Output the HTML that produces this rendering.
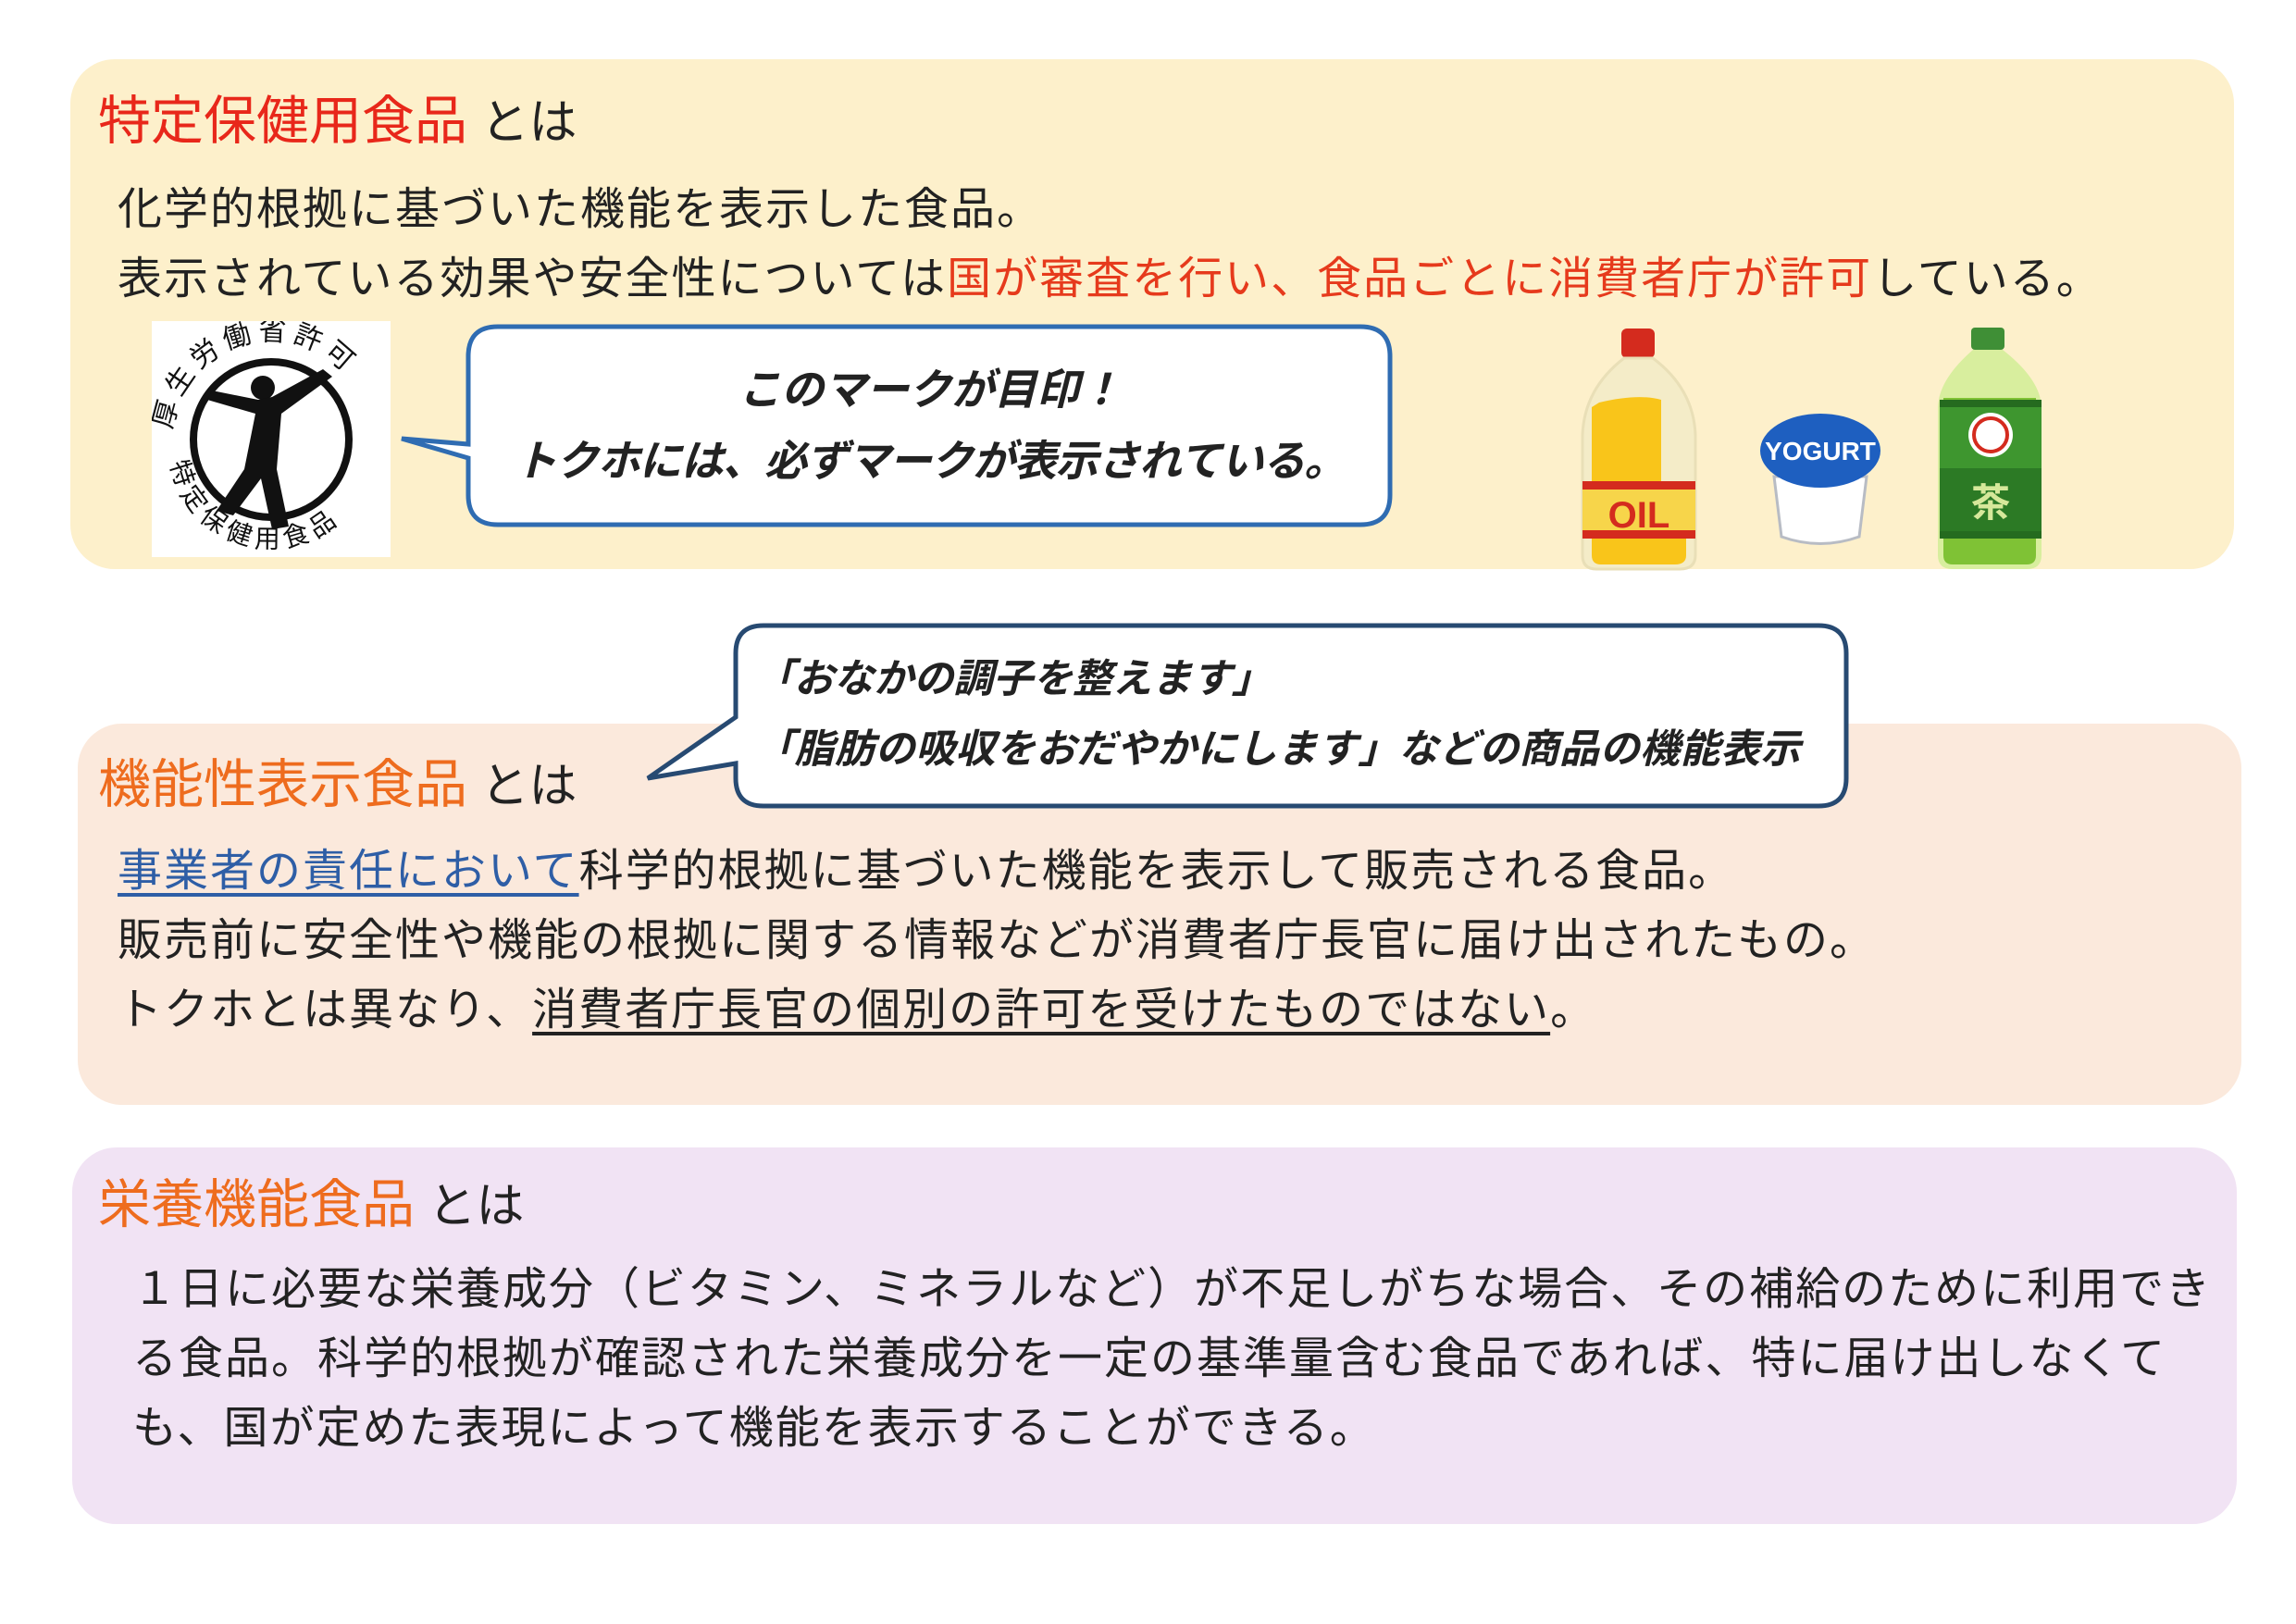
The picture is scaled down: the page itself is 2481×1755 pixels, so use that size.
<!DOCTYPE html>
<html><head><meta charset="utf-8">
<style>
html,body{margin:0;padding:0;background:#fff;}
body{width:2481px;height:1755px;position:relative;overflow:hidden;font-family:"Liberation Sans","Noto Sans CJK JP",sans-serif;color:#222;}
.box{position:absolute;border-radius:48px;}
.t{position:absolute;white-space:nowrap;line-height:1;}
.title{font-size:57px;}
.body{font-size:48px;}
.red{color:#e8271a;}
.org{color:#ee6c1e;}
.rd{color:#e63a1c;}
.b{font-weight:bold;}
</style></head><body>

<div class="box" style="left:76px;top:64px;width:2338px;height:551px;background:#fdf0cb;"></div>
<div class="box" style="left:84px;top:782px;width:2338px;height:412px;background:#fbe9dc;"></div>
<div class="box" style="left:78px;top:1240px;width:2339px;height:407px;background:#f1e3f4;"></div>

<!-- box1 -->
<div class="t title" style="left:106px;top:103px;"><span class="red">特定保健用食品</span><span style="font-size:52px;"> とは</span></div>
<div class="t body" style="left:127px;top:203px;letter-spacing:2px;">化学的根拠に基づいた機能を表示した食品。</div>
<div class="t body" style="left:127px;top:278px;letter-spacing:2px;">表示されている効果や安全性については<span class="rd">国が審査を行い、食品ごとに消費者庁が許可</span>している。</div>

<!-- logo -->
<svg style="position:absolute;left:164px;top:347px;" width="258" height="255" viewBox="0 0 258 255">
<rect width="258" height="255" fill="#fff"/>
<defs>
<path id="ta" d="M22,128 A107,107 0 0 1 236,128"/>
<path id="tb" d="M20,140 A109,105 0 0 0 238,140"/>
</defs>
<text font-size="30" font-family="Noto Sans CJK JP,sans-serif" fill="#111" letter-spacing="6"><textPath href="#ta" startOffset="3%">厚生労働省許可</textPath></text>
<text font-size="28" font-family="Noto Sans CJK JP,sans-serif" fill="#111" letter-spacing="6"><textPath href="#tb" startOffset="4%">特定保健用食品</textPath></text>
<circle cx="129" cy="128" r="84" fill="none" stroke="#111" stroke-width="8"/>
<circle cx="120" cy="72" r="13" fill="#111"/>
<path d="M60,85 L112,100 L100,160 L70,205 L88,210 L118,170 L130,225 L148,222 L135,160 L140,100 L195,60 L185,52 L130,82 L115,85 L65,75 Z" fill="#111"/>
</svg>

<!-- bubble 1 -->
<svg style="position:absolute;left:420px;top:340px;" width="1100" height="240" viewBox="0 0 1100 240">
<path d="M118,13 H1050 Q1082,13 1082,45 V195 Q1082,227 1050,227 H118 Q86,227 86,195 V155 L14,134 L86,140 V45 Q86,13 118,13 Z" fill="#fff" stroke="#2f6cb2" stroke-width="5"/>
</svg>
<div class="t b" style="left:506px;width:998px;text-align:center;top:398px;font-size:46px;font-style:italic;">このマークが目印！</div>
<div class="t b" style="left:506px;width:998px;text-align:center;top:475px;font-size:46px;font-style:italic;letter-spacing:-1px;">トクホには、必ずマークが表示されている。</div>

<!-- bottles -->
<svg style="position:absolute;left:1700px;top:345px;" width="540" height="280" viewBox="1700 345 540 280">
<rect x="1752" y="355" width="36" height="32" rx="6" fill="#d42b1e"/>
<path d="M1755,387 H1786 Q1830,420 1832,470 V600 Q1832,615 1815,615 H1725 Q1710,615 1710,600 V470 Q1712,420 1755,387Z" fill="#f4ecc8" stroke="#e9dfb7" stroke-width="3"/>
<path d="M1728,435 Q1770,425 1795,432 V520 Q1825,520 1822,540 V600 Q1822,610 1810,610 H1730 Q1720,610 1720,600 V440Z" fill="#f9c51a"/>
<rect x="1710" y="520" width="122" height="62" fill="#f7d54a"/>
<rect x="1710" y="520" width="122" height="9" fill="#d42b1e"/>
<rect x="1710" y="573" width="122" height="9" fill="#d42b1e"/>
<text x="1771" y="570" text-anchor="middle" font-size="40" font-weight="bold" font-family="Liberation Sans,sans-serif" fill="#d42b1e">OIL</text>
<path d="M1917,515 H2017 L2009,580 Q1967,595 1925,580Z" fill="#fff" stroke="#b8bcc4" stroke-width="3"/>
<ellipse cx="1967" cy="487" rx="65" ry="40" fill="#1e5fc0"/>
<text x="1967" y="497" text-anchor="middle" font-size="28" font-weight="bold" font-family="Liberation Sans,sans-serif" fill="#fff">YOGURT</text>
<g transform="translate(30,0)">
<rect x="2100" y="354" width="36" height="24" rx="4" fill="#3f8f36"/>
<path d="M2102,378 H2134 Q2175,410 2176,440 V600 Q2176,615 2160,615 H2080 Q2064,615 2064,600 V440 Q2065,410 2102,378Z" fill="#d8ee9e"/>
<path d="M2070,430 H2170 V600 Q2170,610 2160,610 H2080 Q2070,610 2070,600Z" fill="#7fc235"/>
<rect x="2066" y="432" width="110" height="150" fill="#3e962f"/>
<rect x="2066" y="432" width="110" height="8" fill="#256b1f"/>
<rect x="2066" y="506" width="110" height="70" fill="#2c7a25"/>
<rect x="2066" y="574" width="110" height="8" fill="#256b1f"/>
<circle cx="2121" cy="470" r="24" fill="#fff"/>
<circle cx="2121" cy="470" r="18" fill="none" stroke="#d42b1e" stroke-width="4"/>
<text x="2121" y="558" text-anchor="middle" font-size="42" font-weight="bold" font-family="Noto Sans CJK JP,sans-serif" fill="#d6e89a">茶</text>
</g>
</svg>

<!-- box2 -->
<div class="t title" style="left:106px;top:820px;"><span class="org">機能性表示食品</span><span style="font-size:52px;"> とは</span></div>
<div class="t body" style="left:127px;top:918px;letter-spacing:2px;"><span style="color:#2e5ea6;text-decoration:underline;text-underline-offset:8px;">事業者の責任において</span>科学的根拠に基づいた機能を表示して販売される食品。</div>
<div class="t body" style="left:127px;top:993px;letter-spacing:2px;">販売前に安全性や機能の根拠に関する情報などが消費者庁長官に届け出されたもの。</div>
<div class="t body" style="left:127px;top:1068px;letter-spacing:2px;">トクホとは異なり、<span style="text-decoration:underline;text-underline-offset:8px;">消費者庁長官の個別の許可を受けたものではない</span>。</div>

<!-- bubble 2 -->
<svg style="position:absolute;left:690px;top:665px;" width="1320" height="220" viewBox="0 0 1320 220">
<path d="M135,11 H1275 Q1305,11 1305,41 V176 Q1305,206 1275,206 H135 Q105,206 105,176 V160 L10,176 L105,110 V41 Q105,11 135,11 Z" fill="#fff" stroke="#274a72" stroke-width="5"/>
</svg>
<div class="t b" style="left:815px;top:713px;font-size:43px;font-style:italic;">「おなかの調子を整えます」</div>
<div class="t b" style="left:815px;top:789px;font-size:43px;font-style:italic;letter-spacing:0.5px;">「脂肪の吸収をおだやかにします」などの商品の機能表示</div>

<!-- box3 -->
<div class="t title" style="left:106px;top:1274px;"><span class="org">栄養機能食品</span><span style="font-size:52px;"> とは</span></div>
<div class="t body" style="left:143px;top:1370px;letter-spacing:2px;">１日に必要な栄養成分（ビタミン、ミネラルなど）が不足しがちな場合、その補給のために利用でき</div>
<div class="t body" style="left:143px;top:1445px;letter-spacing:2px;">る食品。科学的根拠が確認された栄養成分を一定の基準量含む食品であれば、特に届け出しなくて</div>
<div class="t body" style="left:143px;top:1520px;letter-spacing:2px;">も、国が定めた表現によって機能を表示することができる。</div>

</body></html>
